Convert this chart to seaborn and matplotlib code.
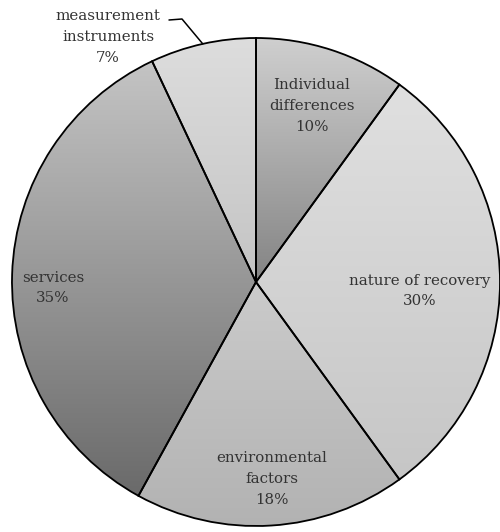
import numpy as np
import matplotlib
matplotlib.use("Agg")
import matplotlib.pyplot as plt
import seaborn as sns
from matplotlib.colors import LinearSegmentedColormap

# Shares of themes, clockwise from 12 o'clock
categories = ["Individual\ndifferences", "nature of recovery", "environmental\nfactors",
              "services", "measurement\ninstruments"]
shares = [10, 30, 18, 35, 7]

# Vertical shading of each slice: (top shade, bottom shade)
shades = [("#cfcfcf", "#848484"),
          ("#e0e0e0", "#c6c6c6"),
          ("#cbcbcb", "#b2b2b2"),
          ("#c4c4c4", "#6a6a6a"),
          ("#dddddd", "#c4c4c4")]

sns.set_theme(style="white")
plt.rcParams["font.family"] = ["DejaVu Serif"]

W, H, DPI = 500, 532, 100
fig = plt.figure(figsize=(W / DPI, H / DPI), dpi=DPI)
ax = fig.add_axes([0, 0, 1, 1])

# pie centre and radius in pixels
cx, cy, R = 256, 282, 244


def to_data(px, py):
    return (px - cx) / R, (cy - py) / R


wedges, _ = ax.pie(shares, startangle=90, counterclock=False, radius=1,
                   colors=["none"] * len(shares),
                   wedgeprops=dict(edgecolor="black", linewidth=1.3))

grad = np.linspace(0, 1, 256).reshape(-1, 1)
for w, (top, bot) in zip(wedges, shades):
    verts = w.get_path().vertices
    x0, y0 = verts.min(axis=0)
    x1, y1 = verts.max(axis=0)
    cmap = LinearSegmentedColormap.from_list("shade", [top, bot])
    im = ax.imshow(grad, cmap=cmap, extent=(x0, x1, y0, y1), origin="upper",
                   aspect="auto", zorder=0.5, interpolation="bilinear")
    im.set_clip_path(w)
    w.set_zorder(1)

ax.set_xlim(-cx / R, (W - cx) / R)
ax.set_ylim(-(H - cy) / R, cy / R)
ax.axis("off")

# label block centres in pixels
label_pos = [(312, 106), (420, 291), (272, 479), (53, 288), (108, 37)]
txt_kw = dict(ha="center", va="center", fontsize=10.8, color="#333333",
              linespacing=1.6, zorder=3)
for name, val, (px, py) in zip(categories, shares, label_pos):
    x, y = to_data(px, py)
    ax.text(x, y, f"{name}\n{val}%", **txt_kw)

# leader line for the smallest slice
w = wedges[-1]
mid = np.deg2rad((w.theta1 + w.theta2) / 2)
ex, ey = np.cos(mid), np.sin(mid)
k1 = to_data(182, 19)
k0 = to_data(169, 20)
ax.plot([ex, k1[0], k0[0]], [ey, k1[1], k0[1]], color="black", lw=1.1, zorder=3)

fig.savefig("out.png", dpi=DPI)
